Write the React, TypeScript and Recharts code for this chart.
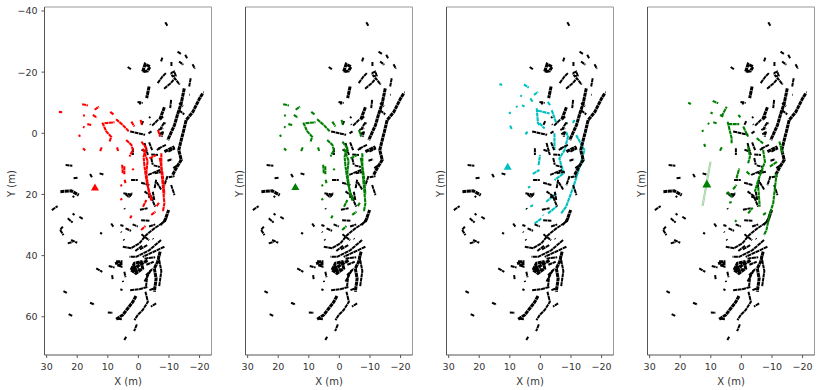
import { ReferenceLine, Scatter, ScatterChart, XAxis, YAxis } from "recharts";

type Stroke = number[];

const xTicks = [30, 20, 10, 0, -10, -20];
const yTicks = [-40, -20, 0, 20, 40, 60];

// points of the map, x,y pairs in metres
const mapThick: Stroke[] = [
  [-21, -13, -20, -11.4, -17.8, -7, -15.6, -4.3, -14.7, -0.5, -14, 2.2, -13.2, 5.5, -14, 8.7, -12.3, 11.5, -11.2, 13.6],
  [-15, -14.7, -14, -9.8, -12.9, -6.5, -11.8, -2.7, -9.6, 2.2],
  [-3.5, -15.3, -2.7, -11.5],
  [-1.4, -20.2, -2.2, -22.6, -3.8, -21.8, -3, -20.4, -1.4, -20.2],
  [2.4, 44.7, 1.3, 42.5, -0.9, 42, -1.4, 44.2, 0.8, 45.8, 2.4, 44.7],
  [1.8, 44.7, -0.3, 43.1, -3.1, 41.5],
  [2, 44, 0, 43.5],
  [1.5, 45, -0.5, 44.5],
  [7.3, 42, 5.7, 42, 5.7, 43.4, 7, 43, 7.3, 42],
  [-8.5, 28.9, -9.9, 25.1],
  [0.8, 53.2, 1.8, 55.1, 3.5, 57.3, 5.1, 59.4, 7.3, 60.8],
  [-7.1, 38.7, -6.3, 42, -5.2, 44.2, -5.8, 47.5, -5.2, 51.8],
  [-8.5, 6, -11.8, 4.4],
  [-8.5, -8.5, -6.9, -4.3],
  [25.5, 19.1, 22, 18.8, 19.5, 20.2],
];

const mapThin: Stroke[] = [
  [-8.8, -36.3, -9.5, -35.1],
  [-12.8, -26.7, -13.9, -26],
  [-15.3, -25.7, -16, -24.4],
  [-13.3, -23.5, -14.7, -22.4],
  [-17.7, -22.6, -18.5, -21.1],
  [-7.4, -23.5, -7.9, -24.9],
  [-10.8, -23.3, -10.8, -21.9],
  [3.5, -21.7, 2.4, -20.9],
  [-6.3, -16.4, -7.9, -18.6, -9, -19.7],
  [-10.6, -19.7, -11.7, -20.2, -12.2, -18.9, -11.2, -18.6, -10.6, -19.7],
  [-8.4, -14.6, -10.6, -16.4, -11.9, -18, -13.5, -15.9],
  [-16.6, -15.3, -17.1, -18],
  [0.3, -10.2, -1.4, -9.9],
  [-0.5, -9.4, -0.5, -10.4],
  [-16.6, -12.6, -16.8, -12.6],
  [-21.2, -13.4, -21.4, -13.4],
  [-13.3, -9.9, -14.6, -8.8],
  [-13.3, -7.5, -15, -6.2],
  [-10.7, -10.9, -10.4, -8.2],
  [-3.5, -5, -3.9, -5.4],
  [-3.8, -3, -4, -2.8],
  [-4.5, -2.5, -6.5, -4.5],
  [-8.4, -3.4, -7.3, -1.7],
  [-7.9, -0.4, -6.8, 0.4],
  [-1, -2.8, -1.6, -4],
  [2.7, -0.6, -2.2, 0.5],
  [-3.3, 0, -4.3, -0.6],
  [-6.5, -1.1, -8.1, -1.7],
  [-8.1, -0.6, -7.6, 1.1],
  [-8.1, -5.5, -7.1, -4.6],
  [-8.1, -3.3, -8.9, -3.3],
  [-1, 5.4, -2.7, 5.9],
  [1.8, 4.9, 1.8, 7.1],
  [-2, 3.2, -3.1, 7.1],
  [-3.5, 3, -4.5, 5.5],
  [-4.2, 8.1, -4.7, 10.3],
  [-6, 5.4, -7.1, 4.9],
  [-6.5, 5, -9, 3.8],
  [-9.8, 6, -12, 4.9],
  [-4.2, 6.9, -6.4, 7.1],
  [-9.5, 9, -11, 8.5],
  [-5, 10.5, -7, 11],
  [-11.4, 11.4, -13, 10.3],
  [-5.3, 13.1, -8, 12.6],
  [-9.9, 14.4, -11.8, 14],
  [-9.5, 14, -8.5, 17],
  [-6, 16, -7.5, 18.5],
  [-10.7, 16.9, -11.8, 20.2],
  [2.4, 15.3, 0.2, 15.3],
  [-0.9, 16.2, -3.6, 16.9],
  [-5.8, 15.2, -5.3, 18],
  [-3.2, 13.6, -7.1, 12],
  [4.9, 19.6, 2.2, 20.1],
  [-3.2, 20.7, -4.9, 21.2],
  [-2, 19, -4, 20.5, -5.5, 24],
  [-0.5, 25, -3, 24.5],
  [23.8, 10.4, 21.6, 10.6],
  [21.2, 14.7, 19.8, 14.5],
  [15.8, 13.3, 15.2, 14.4],
  [12.7, 13.1, 11.4, 13.5],
  [21.5, 20.5, 21, 20.9],
  [28.3, 25.1, 26.4, 23.8],
  [21.5, 26.2, 20.9, 26.7],
  [23.1, 27.8, 21.5, 29.2],
  [19.3, 27.3, 18.2, 28],
  [24.7, 30.5, 25.6, 31.6, 24.5, 33.3],
  [22, 34.9, 20, 35.8],
  [23.1, 36, 21.5, 35.5],
  [12.5, 32.5, 11.9, 32.9],
  [8.9, 29.5, 8.2, 30.5],
  [5.9, 30, 4.9, 30.3],
  [4.2, 31.1, 2.4, 31.9],
  [1.9, 29.8, 0.2, 30.5],
  [5.7, 32.2, 5.5, 32.4],
  [4.9, 34.7, 4.6, 35],
  [5.1, 37.1, 2.4, 37.6, -0.3, 36, -2.5, 33.3, -5.2, 31.1, -8.5, 28.9],
  [-0.9, 28.4, -3.6, 28.6],
  [-3.5, 30.5, -5.5, 29.8],
  [-7.3, 30, -9.3, 27.5],
  [-1, 33, -3.5, 35],
  [-0.5, 38, -3, 36.5],
  [1, 38.5, -1.2, 36.8],
  [-7.4, 34.9, -3.6, 38.2, 0.7, 40.4, 2.9, 40.4],
  [-8.5, 37.1, -1.4, 40.4],
  [-2, 41, -5.5, 40.5],
  [-2.6, 43, -5, 42],
  [-4.7, 34.4, -4.9, 34.6],
  [-6.5, 40, -7.5, 45, -6.8, 50],
  [9.7, 43.4, 7.8, 43.9],
  [13.8, 44.2, 11.8, 45.3],
  [8.6, 46.4, 8.4, 47.8],
  [4.6, 45.3, 4.2, 47.1],
  [5.1, 48.2, 5, 48.6],
  [5.9, 51, 5.2, 51.3],
  [-2.5, 46.4, -4.7, 44.2],
  [-2, 48.5, -4.1, 44.7],
  [-3, 46, -2.5, 50],
  [2.7, 51.3, -0.3, 51, -3.1, 50.2],
  [-3.6, 51.3, -5.2, 50.7],
  [5.4, 60.8, 7, 60.6],
  [-2.3, 51.8, -3.1, 55.1, -1.4, 57.8, 0.2, 59.4, 1.3, 61.1],
  [-5.8, 55.6, -4.1, 56.7],
  [10, 58.6, 8.4, 58.7],
  [15.8, 55.4, 14.4, 56],
  [24.5, 51.6, 23.4, 52.2],
  [22.8, 59.1, 21.5, 59.8],
  [0.5, 62.5, 1.4, 64.7],
  [4, 66.5, 4.6, 67.6],
  [4.2, 19.9, 2.9, 21],
  [2.9, 20.7, 2, 19.4],
  [4.6, 24.5, 4.4, 24.8],
  [-4.7, 19.1, -5.2, 21.8],
];

// tracks seen by the first two runs
const redTrack: Stroke[] = [
  [26, -7, 24.9, -6.9],
  [18.4, -9.5, 16.5, -9.1],
  [14.3, -7.7, 12.9, -8.7],
  [18.1, -5.7, 17.5, -5.9],
  [14.9, -6, 13.6, -5.1],
  [9.2, -7, 8, -6.1],
  [19.4, 0.5, 19.1, 1.1],
  [18.1, -2.2, 17.6, -1.9],
  [16.7, -3, 15.4, -2.7],
  [18.1, 4.9, 17.4, 5.6],
  [12.5, 5.8, 12, 4.6],
  [7, 4.6, 6.6, 5.8],
  [11.8, -3.5, 10.5, -0.6, 8.9, 1.1, 9.4, 2.7],
  [11.1, -3.3, 7.8, -3.6],
  [7.3, -4.6, 5.1, -2.7, 3.1, -0.6],
  [2.3, -3.8, 1.3, -2.2],
  [-0.7, -4.4, -1.2, -2.7],
  [4, 2.2, 2.3, 3.8, 1.8, 5.4, 2.9, 7.6],
  [-1, 2.7, -2.6, 4.9, -1.7, 7.6, -2, 10.9, -2.6, 15.2, -3.6, 19.6, -4.5, 21.8],
  [-1.5, 5, -3, 9, -2.6, 13, -3.2, 18, -4.2, 22],
  [-6.4, -1.1, -7.1, 1.1],
  [-7.5, 6.5, -7.5, 12, -8, 17.4, -8.5, 22.9, -8, 25.6],
  [-7, 8, -8, 14, -8.5, 20],
  [-3.6, 8.2, -5.8, 7.1],
  [5.3, 10.3, 5.1, 13.1],
  [4.6, 10.8, 4.6, 13.4],
  [2, 12, 1.5, 11.6],
  [4.5, 15.2, 4.2, 16.3],
  [5.9, 17.2, 5.3, 16.9],
  [5.9, 21.8, 5.3, 21.4],
  [-1.5, 24, -2.6, 21.8],
  [-0.9, 31.6, -2.3, 30.3],
  [-6, 23.8, -6.7, 22.7],
  [2.7, 27.8, 2.2, 26.9],
  [-4.2, 26.7, -5.6, 25.6],
];

const cyanTrack: Stroke[] = [
  [13.4, -16.1, 12.5, -15.8],
  [5.4, -16, 3.8, -14.9],
  [6.6, -12.3, 6, -12.2],
  [3.3, -11.4, 2.5, -10.3],
  [2.1, -12.5, 0.8, -13.6],
  [7.9, -8.9, 7.5, -8.5],
  [6, -9.2, 5.2, -8.7],
  [-2.4, -10.3, -3.2, -9.2],
  [10.1, -7, 9.9, -6.3],
  [9.9, -2.5, 9.4, -1.4],
  [4.9, 0.3, 4.2, -0.5],
  [1.2, -8.2, 0.8, -3.3, 0.3, -2.7],
  [0.8, -7.4, -3, -6.5],
  [-3.7, -7.6, -5.2, -3.3],
  [0.3, -3.3, -1.4, -1.6],
  [-4.6, 0, -4.6, 5.5],
  [-8.4, -0.5, -9, 1.1, -7.9, 5.5, -6.2, 8.2, -7.6, 13.1, -4.6, 15.3],
  [-11.2, -4.3, -10.6, -3.4],
  [-11.7, 0.6, -14.4, 5.5, -12.8, 11, -10.8, 17.5, -8.4, 24, -6.8, 26.2],
  [0.6, 10.4, 0.1, 7.1],
  [2.5, 13.3, 0.3, 12],
  [4.1, 17.7, 3.3, 17.5],
  [3.3, 24, 2.4, 23.5],
  [4.6, 24.6, 4.4, 24.8],
  [-0.8, 26.7, -1, 26.9],
  [1.9, 29.5, -0.3, 27.9],
  [-2.5, 26.2, -5.2, 24],
  [-1.9, 22.4, -5.2, 19.6],
];

const lastTrack: Stroke[] = [
  [17.4, -10, 16.5, -9.6],
  [9.4, -10.6, 7.6, -9.8],
  [6.5, -5.5, 4.8, -8.7],
  [10.1, -6.8, 9.4, -6.5],
  [7, -6, 5.9, -5.5],
  [1, -6, 0.3, -5.2],
  [11, -3.3, 10.5, -3],
  [9.2, -3.6, 8.1, -3.3],
  [12.8, -1.1, 12.5, -0.5],
  [12.2, 3.5, 11.8, 4.4],
  [7, 5.7, 6.4, 4.6],
  [4.5, -3.8, 3.2, 1.6, 3.2, 3.3],
  [4.3, -3, 0.7, -3],
  [-0.6, -2.2, -2.2, 1.1],
  [-5, 1.6, -7.1, 3.3],
  [-2.2, 4.4, -2.8, 7.6, -2.2, 9.8],
  [-7.1, 5.5, -7.7, 9.3, -5.5, 15.3, -4.4, 19.1],
  [-5.5, 17.5, -6, 24],
  [-12.4, 2.7, -13.5, 6.5],
  [-9.3, 10.9, -11.7, 9.3],
  [-11.5, 13.1, -11, 17.5, -10.4, 22.9, -9.3, 26.2, -8.2, 31.6, -7.4, 33.3],
  [1.6, 14.7, 0.7, 11.5],
  [-1.7, 12.5, -2.8, 13.6],
  [2.7, 18.3, 1.6, 16.9],
  [4.6, 19.1, 3.2, 20.7],
  [4, 22.7, 3.2, 22.5],
  [2.1, 28.9, 1.6, 28.4],
  [-2.2, 26.2, -3.7, 24.3],
  [-7.1, 26.7, -8, 26],
];

const lastSpread: Stroke[] = [
  [9.9, 9.3, 12.5, 23.8],
  [10.3, 9.3, 12.9, 23.8],
];

const panels = [
  { left: 0, color: "#ff0000", track: redTrack, sensor: [14.2, 17.7], tri: 4, labels: true, yLabelX: 10, trackOnTop: true, spread: [] as Stroke[] },
  { left: 201, color: "#008000", track: redTrack.slice(1), sensor: [14.4, 17.6], tri: 4, labels: false, yLabelX: 238, trackOnTop: true, spread: [] as Stroke[] },
  { left: 402, color: "#00bfbf", track: cyanTrack, sensor: [10.7, 10.9], tri: 4, labels: false, yLabelX: 439, trackOnTop: false, spread: [] as Stroke[] },
  { left: 603, color: "#008000", track: lastTrack, sensor: [11.3, 16.6], tri: 4.5, labels: false, yLabelX: 640, trackOnTop: true, spread: lastSpread },
];

const rows = (s: Stroke) => {
  const out: { x: number; y: number }[] = [];
  for (let i = 0; i < s.length; i += 2) out.push({ x: s[i], y: s[i + 1] });
  return out;
};

const minus = (v: number) => String(v).replace("-", "\u2212");
const tickStyle = { fontSize: 9.5, fill: "#333", fontFamily: "DejaVu Sans" };
const labelStyle = { fontSize: 10, fill: "#333", fontFamily: "DejaVu Sans" };
const axisLine = { stroke: "#555", strokeWidth: 1 };

function strokes(list: Stroke[], color: string, width: number, key: string, dash = "4 0.5") {
  return list.map((s, i) => (
    <Scatter
      key={key + i}
      data={rows(s)}
      line={{ stroke: color, strokeWidth: width, strokeDasharray: dash }}
      lineType="joint"
      shape={() => <g />}
      isAnimationActive={false}
    />
  ));
}

function Panel({ p }: { p: (typeof panels)[number] }) {
  const map = [
    ...strokes(mapThick, "#000", 3, "k"),
    ...strokes(mapThin, "#000", 2, "t"),
  ];
  const track = strokes(p.track, p.color, 2.1, "c");
  return (
    <div style={{ position: "absolute", left: p.left, top: 0 }}>
      <ScatterChart
        width={212}
        height={390}
        margin={{ top: 7, right: 0.5, bottom: 0, left: 0 }}
      >
        <XAxis
          type="number"
          dataKey="x"
          reversed
          domain={[-23.9, 30.7]}
          ticks={xTicks}
          allowDataOverflow
          height={35}
          tickSize={3}
          tickMargin={5}
          tick={tickStyle}
          tickFormatter={minus}
          interval={0}
          axisLine={axisLine}
          tickLine={axisLine}
          label={{ value: "X (m)", position: "insideBottom", offset: 5, style: labelStyle }}
        />
        <YAxis
          type="number"
          dataKey="y"
          reversed
          domain={[-41.3, 72.5]}
          ticks={yTicks}
          allowDataOverflow
          width={44.5}
          tickSize={3}
          tickMargin={4}
          tick={p.labels ? tickStyle : false}
          tickFormatter={minus}
          interval={0}
          axisLine={axisLine}
          tickLine={axisLine}
          label={{
            value: "Y (m)",
            angle: -90,
            position: "insideLeft",
            dx: p.yLabelX - p.left - 4,
            dy: 16,
            style: labelStyle,
          }}
        />
        <ReferenceLine x={-23.9} stroke="#999" ifOverflow="extendDomain" />
        <ReferenceLine y={-41.3} stroke="#999" ifOverflow="extendDomain" />
        {p.trackOnTop ? map : track}
        {p.trackOnTop ? track : map}
        {strokes(p.spread, "#7fbf7f", 0.7, "s", "")}
        <Scatter
          data={[{ x: p.sensor[0], y: p.sensor[1] }]}
          isAnimationActive={false}
          shape={(s: any) => (
            <polygon
              points={`${s.cx},${s.cy - p.tri} ${s.cx + p.tri},${s.cy + p.tri * 0.75} ${s.cx - p.tri},${s.cy + p.tri * 0.75}`}
              fill={p.color}
            />
          )}
        />
      </ScatterChart>
    </div>
  );
}

export default function App() {
  return (
    <div style={{ position: "absolute", left: 0, top: 0, width: 822, height: 390 }}>
      {panels.map((p) => (
        <Panel key={p.left} p={p} />
      ))}
    </div>
  );
}
